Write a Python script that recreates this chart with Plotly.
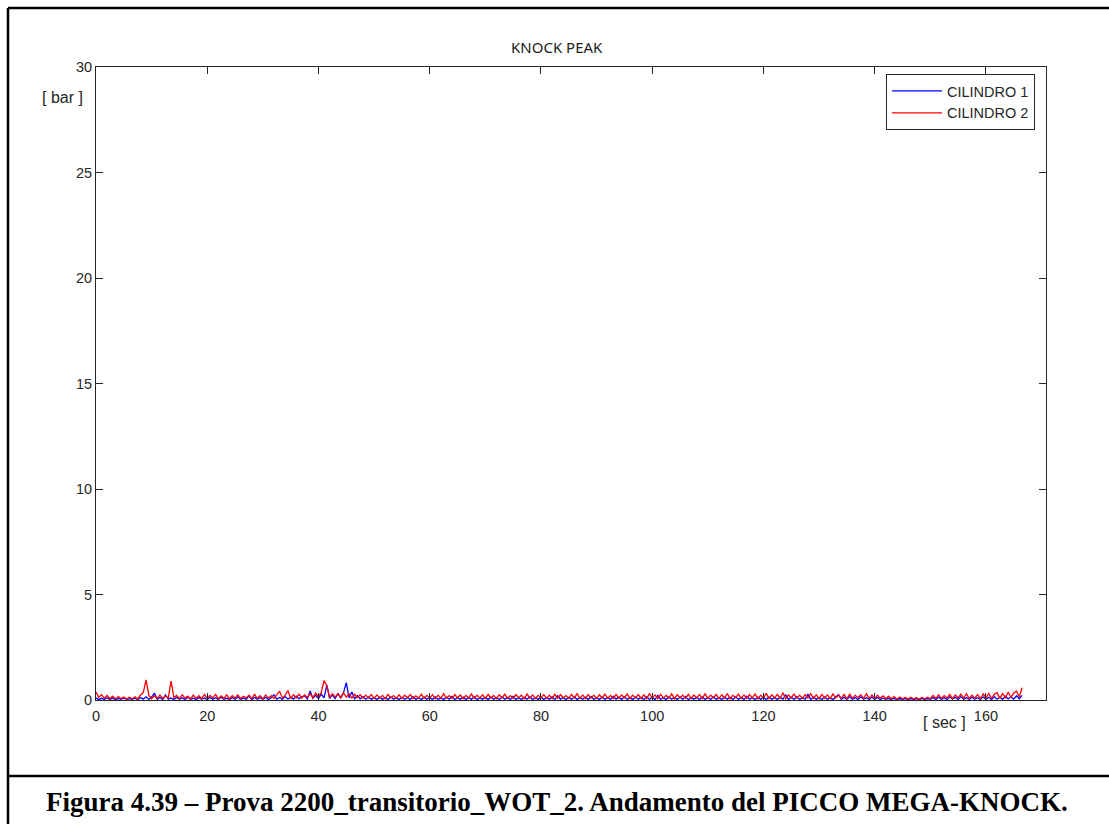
import plotly.graph_objects as go

# Knock peak pressure per cylinder, sampled every 0.5 s  [bar]
SAMPLE_PERIOD = 0.5

cilindro_1 = [
    0.10, 0.02, 0.08, 0.03, 0.11, 0.02, 0.09, 0.01, 0.07, 0.03, 0.10, 0.02, 0.06, 0.03, 0.09, 0.02, 0.12, 0.04, 0.15, 0.03,
    0.14, 0.33, 0.03, 0.12, 0.02, 0.24, 0.04, 0.10, 0.02, 0.13, 0.03, 0.11, 0.02, 0.14, 0.03, 0.09, 0.02, 0.12, 0.04, 0.10,
    0.02, 0.13, 0.03, 0.11, 0.02, 0.14, 0.04, 0.09, 0.02, 0.12, 0.03, 0.15, 0.02, 0.10, 0.03, 0.20, 0.02, 0.12, 0.04, 0.11,
    0.03, 0.13, 0.02, 0.11, 0.25, 0.04, 0.12, 0.03, 0.16, 0.05, 0.13, 0.04, 0.18, 0.06, 0.15, 0.20, 0.05, 0.43, 0.08, 0.22,
    0.06, 0.28, 0.10, 0.71, 0.08, 0.24, 0.07, 0.32, 0.09, 0.35, 0.82, 0.10, 0.38, 0.06, 0.20, 0.05, 0.16, 0.04, 0.14, 0.03,
    0.12, 0.02, 0.14, 0.03, 0.11, 0.02, 0.15, 0.04, 0.10, 0.02, 0.13, 0.03, 0.12, 0.02, 0.16, 0.03, 0.11, 0.02, 0.14, 0.04,
    0.12, 0.02, 0.15, 0.03, 0.10, 0.02, 0.13, 0.04, 0.17, 0.02, 0.11, 0.03, 0.14, 0.02, 0.12, 0.03, 0.16, 0.02, 0.10, 0.04,
    0.13, 0.02, 0.15, 0.03, 0.11, 0.02, 0.14, 0.04, 0.12, 0.02, 0.18, 0.03, 0.10, 0.02, 0.13, 0.04, 0.15, 0.02, 0.11, 0.03,
    0.14, 0.02, 0.12, 0.03, 0.16, 0.02, 0.20, 0.04, 0.11, 0.02, 0.13, 0.03, 0.15, 0.02, 0.12, 0.04, 0.14, 0.02, 0.17, 0.03,
    0.11, 0.02, 0.14, 0.03, 0.12, 0.02, 0.18, 0.04, 0.13, 0.02, 0.15, 0.03, 0.11, 0.02, 0.14, 0.04, 0.12, 0.02, 0.16, 0.03,
    0.13, 0.02, 0.22, 0.03, 0.11, 0.02, 0.15, 0.04, 0.12, 0.02, 0.14, 0.03, 0.17, 0.02, 0.11, 0.04, 0.13, 0.02, 0.15, 0.03,
    0.12, 0.02, 0.16, 0.03, 0.11, 0.02, 0.14, 0.04, 0.13, 0.02, 0.15, 0.03, 0.12, 0.02, 0.18, 0.04, 0.11, 0.02, 0.14, 0.03,
    0.13, 0.02, 0.15, 0.03, 0.12, 0.02, 0.14, 0.04, 0.24, 0.02, 0.13, 0.03, 0.16, 0.02, 0.11, 0.04, 0.28, 0.02, 0.14, 0.03,
    0.12, 0.02, 0.15, 0.03, 0.11, 0.02, 0.14, 0.26, 0.03, 0.13, 0.02, 0.16, 0.03, 0.12, 0.02, 0.15, 0.04, 0.11, 0.02, 0.14,
    0.03, 0.12, 0.02, 0.10, 0.03, 0.08, 0.02, 0.09, 0.01, 0.07, 0.02, 0.08, 0.01, 0.06, 0.02, 0.07, 0.01, 0.08, 0.02, 0.06,
    0.03, 0.12, 0.02, 0.14, 0.03, 0.11, 0.02, 0.15, 0.04, 0.13, 0.02, 0.16, 0.03, 0.12, 0.02, 0.14, 0.04, 0.11, 0.02, 0.15,
    0.03, 0.13, 0.02, 0.16, 0.04, 0.14, 0.03, 0.18, 0.05, 0.15, 0.04, 0.20, 0.06, 0.22,
]

cilindro_2 = [
    0.38, 0.12, 0.25, 0.08, 0.22, 0.06, 0.18, 0.05, 0.16, 0.07, 0.14, 0.04, 0.13, 0.06, 0.15, 0.05, 0.24, 0.35, 0.95, 0.22,
    0.06, 0.20, 0.08, 0.24, 0.07, 0.19, 0.10, 0.90, 0.12, 0.22, 0.06, 0.25, 0.09, 0.18, 0.05, 0.23, 0.08, 0.20, 0.06, 0.26,
    0.07, 0.22, 0.10, 0.27, 0.06, 0.19, 0.08, 0.24, 0.05, 0.21, 0.09, 0.25, 0.07, 0.18, 0.10, 0.23, 0.06, 0.26, 0.08, 0.20,
    0.05, 0.24, 0.09, 0.21, 0.07, 0.27, 0.42, 0.10, 0.22, 0.45, 0.08, 0.25, 0.11, 0.28, 0.09, 0.24, 0.12, 0.30, 0.10, 0.33,
    0.14, 0.36, 0.92, 0.68, 0.12, 0.30, 0.15, 0.28, 0.11, 0.34, 0.13, 0.29, 0.09, 0.27, 0.12, 0.25, 0.08, 0.23, 0.10, 0.26,
    0.07, 0.24, 0.09, 0.22, 0.06, 0.27, 0.10, 0.21, 0.08, 0.25, 0.07, 0.23, 0.11, 0.26, 0.06, 0.20, 0.09, 0.28, 0.07, 0.22,
    0.10, 0.25, 0.06, 0.23, 0.08, 0.30, 0.09, 0.21, 0.07, 0.26, 0.11, 0.24, 0.06, 0.22, 0.09, 0.29, 0.08, 0.23, 0.10, 0.25,
    0.07, 0.27, 0.09, 0.22, 0.06, 0.25, 0.10, 0.28, 0.08, 0.21, 0.07, 0.26, 0.11, 0.23, 0.06, 0.29, 0.09, 0.24, 0.07, 0.22,
    0.10, 0.26, 0.08, 0.23, 0.06, 0.28, 0.09, 0.25, 0.11, 0.21, 0.07, 0.27, 0.10, 0.30, 0.08, 0.24, 0.06, 0.26, 0.09, 0.23,
    0.07, 0.25, 0.10, 0.28, 0.08, 0.22, 0.06, 0.27, 0.09, 0.24, 0.11, 0.29, 0.07, 0.23, 0.10, 0.26, 0.08, 0.25, 0.06, 0.31,
    0.09, 0.24, 0.07, 0.27, 0.10, 0.22, 0.08, 0.29, 0.06, 0.25, 0.11, 0.23, 0.08, 0.28, 0.07, 0.24, 0.10, 0.26, 0.06, 0.30,
    0.08, 0.23, 0.10, 0.27, 0.07, 0.25, 0.09, 0.31, 0.06, 0.22, 0.11, 0.28, 0.08, 0.24, 0.07, 0.26, 0.10, 0.29, 0.06, 0.23,
    0.09, 0.32, 0.07, 0.25, 0.10, 0.27, 0.08, 0.34, 0.06, 0.24, 0.11, 0.28, 0.09, 0.23, 0.07, 0.26, 0.10, 0.30, 0.08, 0.25,
    0.06, 0.27, 0.09, 0.24, 0.07, 0.29, 0.10, 0.23, 0.08, 0.26, 0.06, 0.28, 0.09, 0.22, 0.11, 0.25, 0.07, 0.30, 0.08, 0.24,
    0.07, 0.23, 0.09, 0.20, 0.06, 0.18, 0.05, 0.16, 0.04, 0.14, 0.06, 0.12, 0.04, 0.13, 0.05, 0.11, 0.04, 0.12, 0.05, 0.13,
    0.06, 0.22, 0.08, 0.25, 0.07, 0.21, 0.09, 0.27, 0.06, 0.24, 0.10, 0.28, 0.08, 0.30, 0.07, 0.23, 0.09, 0.26, 0.06, 0.29,
    0.10, 0.31, 0.08, 0.27, 0.35, 0.09, 0.30, 0.11, 0.38, 0.12, 0.33, 0.42, 0.15, 0.58,
]

x_ticks = [0, 20, 40, 60, 80, 100, 120, 140, 160]
y_ticks = [0, 5, 10, 15, 20, 25, 30]
x_range = [0, 170.8]
y_range = [0, 30]

t_1 = [i * SAMPLE_PERIOD for i in range(len(cilindro_1))]
t_2 = [i * SAMPLE_PERIOD for i in range(len(cilindro_2))]

W, H = 1109, 824
L, R, T, B = 96, 1046, 67, 700   # plot-area edges in pixels


def px(x):
    return (x - L) / (R - L)


def py(y):
    return (B - y) / (B - T)


fig = go.Figure()
fig.add_trace(go.Scatter(x=t_1, y=cilindro_1, mode="lines", name="CILINDRO 1",
                         line=dict(color="#0000ff", width=1.3)))
fig.add_trace(go.Scatter(x=t_2, y=cilindro_2, mode="lines", name="CILINDRO 2",
                         line=dict(color="#ff0000", width=1.3)))

axis_font = dict(family="Liberation Sans, Arial, sans-serif", size=14.5, color="#262626")
common_axis = dict(showline=True, linecolor="#262626", linewidth=1, mirror="ticks",
                   ticks="inside", ticklen=7, tickwidth=1, tickcolor="#262626",
                   showgrid=False, zeroline=False, tickfont=axis_font, fixedrange=True)

fig.update_xaxes(range=x_range, tickvals=x_ticks, ticktext=[str(v) for v in x_ticks],
                 ticklabelstandoff=3, **common_axis)
fig.update_yaxes(range=y_range, tickvals=y_ticks, ticktext=[str(v) for v in y_ticks], **common_axis)

frame = dict(color="black", width=2.5)
shapes = [
    dict(type="line", xref="paper", yref="paper", x0=px(8), x1=px(8), y0=py(8), y1=py(830), line=frame),
    dict(type="line", xref="paper", yref="paper", x0=px(8), x1=px(1115), y0=py(8), y1=py(8), line=frame),
    dict(type="line", xref="paper", yref="paper", x0=px(8), x1=px(1115), y0=py(776), y1=py(776), line=frame),
]

label_font = dict(family="Liberation Sans, Arial, sans-serif", size=16, color="#262626")
annotations = [
    dict(text="KNOCK PEAK", xref="paper", yref="paper", x=px(557), y=py(47),
         showarrow=False, xanchor="center", yanchor="middle",
         font=dict(family="Noto Sans, sans-serif", size=15, color="#222222")),
    dict(text="[ bar ]", xref="paper", yref="paper", x=px(62), y=py(97),
         showarrow=False, xanchor="center", yanchor="middle", font=label_font),
    dict(text="[ sec ]", xref="paper", yref="paper", x=px(944), y=py(723),
         showarrow=False, xanchor="center", yanchor="middle", font=label_font),
    dict(text="<b>Figura 4.39 – Prova 2200_transitorio_WOT_2. Andamento del PICCO MEGA-KNOCK.</b>",
         xref="paper", yref="paper", x=px(557), y=py(802),
         showarrow=False, xanchor="center", yanchor="middle",
         font=dict(family="Liberation Serif, Times New Roman, serif", size=27, color="black")),
]

fig.update_layout(
    width=W, height=H,
    margin=dict(l=L, r=W - R, t=T, b=H - B, pad=0),
    paper_bgcolor="white", plot_bgcolor="white",
    showlegend=True,
    legend=dict(x=px(886), y=py(74), xanchor="left", yanchor="top",
                bgcolor="white", bordercolor="#262626", borderwidth=1,
                itemwidth=50, font=dict(family="Liberation Sans, Arial, sans-serif", size=14.5, color="#262626"),
                itemclick=False, itemdoubleclick=False),
    shapes=shapes, annotations=annotations,
)

fig.write_html("out.html", config={"displayModeBar": False})
